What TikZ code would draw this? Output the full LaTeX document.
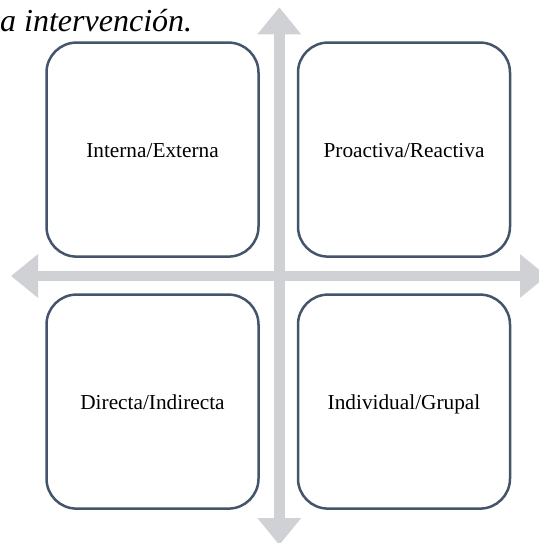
\documentclass[tikz,border=0pt]{standalone}
\usepackage{fontspec}
\setmainfont{Liberation Serif}
\usepackage{xcolor}
\usetikzlibrary{positioning,arrows.meta}
\definecolor{boxline}{RGB}{68,84,106}
\definecolor{axisgray}{RGB}{208,209,213}

\begin{document}
\begin{tikzpicture}[x=1pt,y=-1pt,
    quadbox/.style={rectangle, draw=boxline, line width=2.5pt, rounded corners=30pt,
        minimum width=212pt, minimum height=214pt, outer sep=0pt, align=center,
        text height=15.4pt, text depth=0pt,
        font=\fontsize{21.3}{25}\selectfont},
    axisarrow/.style={-{Triangle[width=42pt,length=27pt]}, line width=10.5pt, axisgray}
]
    \useasboundingbox (0,0) rectangle (538,543);

    % Caption
    \node[anchor=base west, inner sep=0pt, font=\fontsize{32}{38}\selectfont\itshape]
        (caption) at (0,31.7) {a intervención.};

    % Axes
    \coordinate (ctr) at (279.3,276);
    \coordinate (west) at (11,276);
    \coordinate (east) at (547,276);
    \coordinate (north) at (279.3,7.3);
    \coordinate (south) at (279.3,545);
    \draw[axisarrow] (ctr) -- (west);
    \draw[axisarrow] (ctr) -- (east);
    \draw[axisarrow] (ctr) -- (north);
    \draw[axisarrow] (ctr) -- (south);

    % Interna/Externa
    \node[quadbox] (q1) at (152.5,149.6) {Interna/Externa};

    % Proactiva/Reactiva
    \node[quadbox, right=39.5pt of q1] (q2) {Proactiva/Reactiva};

    % Directa/Indirecta
    \node[quadbox, below=38pt of q1] (q3) {Directa/Indirecta};

    % Individual/Grupal
    \node[quadbox, right=39.5pt of q3] (q4) {Individual/Grupal};

\end{tikzpicture}
\end{document}
